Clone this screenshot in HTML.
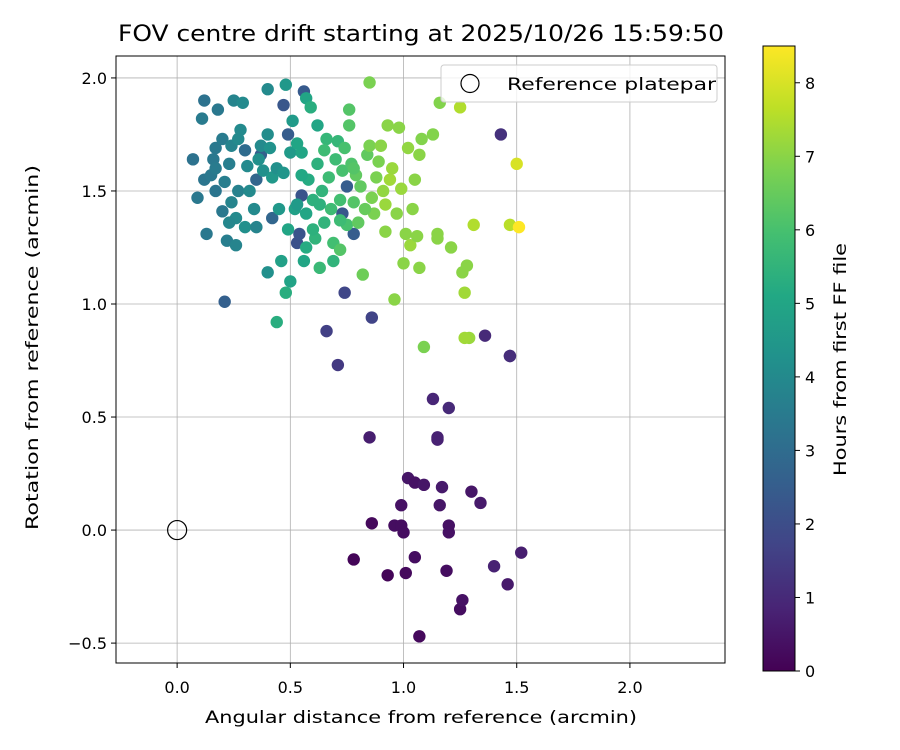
<!DOCTYPE html>
<html><head><meta charset="utf-8">
<style>
html,body{margin:0;padding:0;background:#fff;}
svg{display:block;font-family:"DejaVu Sans","Liberation Sans",sans-serif;}
</style></head>
<body>
<svg id="chart" width="900" height="750" viewBox="0 0 900 750" xmlns="http://www.w3.org/2000/svg">
<defs>
<linearGradient id="vir" x1="0" y1="1" x2="0" y2="0">
<stop offset="0" stop-color="#440154"/><stop offset="0.1" stop-color="#482475"/><stop offset="0.2" stop-color="#414487"/><stop offset="0.3" stop-color="#355f8d"/><stop offset="0.4" stop-color="#2a788e"/><stop offset="0.5" stop-color="#21918c"/><stop offset="0.6" stop-color="#22a884"/><stop offset="0.7" stop-color="#44bf70"/><stop offset="0.8" stop-color="#7ad151"/><stop offset="0.9" stop-color="#bddf26"/><stop offset="1" stop-color="#fde725"/>
</linearGradient>
<clipPath id="plotclip"><rect x="116" y="56" width="609" height="607"/></clipPath>
</defs>
<text x="118" y="41" font-size="22" textLength="606" lengthAdjust="spacingAndGlyphs">FOV centre drift starting at 2025/10/26 15:59:50</text>
<g id="grid"></g>
<g id="points" clip-path="url(#plotclip)"></g>
<rect x="116" y="56" width="609" height="607" fill="none" stroke="#000" stroke-width="1"/>
<g id="ticks"></g>
<text x="205" y="723" font-size="17" textLength="432" lengthAdjust="spacingAndGlyphs">Angular distance from reference (arcmin)</text>
<text transform="translate(38,530) rotate(-90)" font-size="17" textLength="365" lengthAdjust="spacingAndGlyphs">Rotation from reference (arcmin)</text>
<g>
<rect x="441" y="65" width="276" height="37" rx="3" fill="#fff" fill-opacity="0.8" stroke="#ccc"/>
<circle cx="470" cy="83.5" r="9" fill="none" stroke="#000" stroke-width="1.2"/>
<text x="507" y="90" font-size="17" textLength="209" lengthAdjust="spacingAndGlyphs">Reference platepar</text>
</g>
<rect x="763" y="46" width="32" height="625" fill="url(#vir)" stroke="#000" stroke-width="1"/>
<g id="cbticks"></g>
<text transform="translate(846,476) rotate(-90)" font-size="17" textLength="233" lengthAdjust="spacingAndGlyphs">Hours from first FF file</text>
</svg>
<script>
const xTicks=[0.0,0.5,1.0,1.5,2.0];
const xTickLabels=["0.0","0.5","1.0","1.5","2.0"];
const yTicks=[-0.5,0.0,0.5,1.0,1.5,2.0];
const yTickLabels=["\u22120.5","0.0","0.5","1.0","1.5","2.0"];
const cbTicks=[0,1,2,3,4,5,6,7,8];
const xs=[1.07,1.25,1.26,1.46,1.52,1.40,1.34,1.30,1.20,1.20,1.19,1.05,1.01,0.93,0.78,0.86,0.96,0.99,1.00,0.99,1.02,1.05,1.09,1.16,1.17,0.85,1.15,1.15,1.13,1.20,1.36,1.47,1.47,1.43,0.71,0.66,0.86,0.74,
0.21,0.53,0.54,0.55,0.47,0.56,0.49,0.37,0.30,0.42,0.73,0.78,0.75,0.35,
0.07,0.09,0.11,0.12,0.13,0.12,0.15,0.16,0.17,0.17,0.17,0.18,0.20,0.20,0.21,0.22,0.23,0.24,0.24,0.25,0.26,0.26,0.27,0.28,0.29,0.30,0.31,0.32,0.34,0.35,0.36,0.37,0.38,0.40,0.40,0.40,0.41,0.42,0.44,0.45,0.47,0.48,0.50,0.51,0.52,0.53,0.46,0.48,0.44,0.27,0.23,
0.53,0.55,0.57,0.58,0.57,0.57,0.59,0.60,0.61,0.62,0.62,0.63,0.64,0.65,0.66,0.67,0.68,0.69,0.70,0.71,0.72,0.72,0.73,0.74,0.75,0.76,0.76,0.77,0.78,0.79,0.80,0.81,0.82,0.84,0.85,0.85,0.86,0.87,0.88,0.89,0.90,0.91,0.92,0.92,0.93,0.94,0.95,0.96,0.97,0.98,0.99,1.00,1.01,1.02,1.03,1.04,1.05,1.06,1.07,1.07,1.08,1.09,1.13,1.15,1.15,1.16,1.21,1.25,1.26,1.27,1.28,1.29,1.31,1.47,1.50,1.51,1.27,0.65,0.60,0.56,0.69,0.72,0.78,0.83,0.50,0.49,0.55,0.63];
const ys=[-0.47,-0.35,-0.31,-0.24,-0.10,-0.16,0.12,0.17,0.02,-0.01,-0.18,-0.12,-0.19,-0.20,-0.13,0.03,0.02,0.02,-0.01,0.11,0.23,0.21,0.20,0.11,0.19,0.41,0.41,0.40,0.58,0.54,0.86,0.77,0.77,1.75,0.73,0.88,0.94,1.05,
1.01,1.27,1.31,1.48,1.88,1.94,1.75,1.66,1.68,1.38,1.40,1.31,1.52,1.55,
1.64,1.47,1.82,1.90,1.31,1.55,1.57,1.64,1.69,1.60,1.50,1.86,1.73,1.41,1.54,1.28,1.62,1.45,1.70,1.90,1.38,1.26,1.50,1.77,1.89,1.34,1.61,1.50,1.42,1.34,1.64,1.70,1.59,1.75,1.95,1.14,1.69,1.56,1.60,1.42,1.58,1.97,1.67,1.81,1.42,1.44,1.19,1.05,0.92,1.73,1.36,
1.71,1.67,1.91,1.55,1.40,1.25,1.87,1.46,1.29,1.62,1.79,1.16,1.50,1.36,1.73,1.56,1.42,1.27,1.64,1.72,1.46,1.24,1.59,1.69,1.35,1.86,1.79,1.62,1.45,1.57,1.36,1.52,1.13,1.66,1.70,1.98,1.47,1.40,1.56,1.63,1.70,1.50,1.44,1.32,1.79,1.55,1.60,1.02,1.40,1.78,1.51,1.18,1.31,1.69,1.26,1.42,1.55,1.30,1.16,1.66,1.73,0.81,1.75,1.31,1.29,1.89,1.25,1.87,1.14,1.05,1.17,0.85,1.35,1.35,1.62,1.34,0.85,1.68,1.33,1.19,1.19,1.37,1.60,1.42,1.10,1.33,1.57,1.44];
const hours=[0.2,0.3,0.4,0.6,0.7,0.8,0.6,0.5,0.4,0.4,0.3,0.3,0.2,0.1,0.1,0.2,0.3,0.3,0.3,0.4,0.5,0.4,0.5,0.5,0.6,0.7,0.8,0.8,0.9,1.0,1.0,1.1,1.1,1.2,1.4,1.6,1.7,1.8,
2.6,2.1,2.2,2.2,2.3,2.4,2.5,2.6,3.0,2.8,2.3,2.5,2.5,2.8,
3.2,3.4,3.5,3.2,3.4,3.3,3.4,3.4,3.4,3.5,3.3,3.4,3.5,3.4,3.6,3.6,3.6,3.8,3.8,3.8,4.0,3.8,3.7,4.0,4.0,4.2,4.0,4.0,4.0,3.8,4.2,4.0,4.2,4.1,4.0,4.2,4.3,4.5,4.2,4.5,4.4,4.5,4.6,4.6,4.8,4.6,4.8,5.3,5.3,4.0,3.9,
5.0,5.0,5.0,5.2,5.0,5.2,5.3,5.4,5.5,5.4,5.0,5.7,5.5,5.5,5.6,5.8,5.8,5.9,5.8,5.6,5.9,6.2,6.0,6.0,6.0,6.2,6.2,6.1,6.2,6.4,6.4,6.4,6.6,6.4,6.8,6.8,6.8,6.8,6.8,6.8,7.0,7.1,7.2,7.0,7.0,7.3,7.2,7.0,7.0,7.0,7.2,7.0,7.0,7.1,7.2,7.0,7.0,7.0,7.0,7.0,6.9,6.8,6.9,7.0,7.0,6.9,7.0,7.5,7.0,7.3,7.0,7.2,7.5,7.6,8.0,8.5,7.3,5.8,5.4,5.0,5.5,5.8,6.2,6.5,4.9,5.0,5.1,5.4];

const NS="http://www.w3.org/2000/svg";
const X0=-0.27,X1=2.42,Y0=-0.588,Y1=2.097;
const L=116,R=725,T=56,B=663;
function sx(v){return L+(v-X0)/(X1-X0)*(R-L);}
function sy(v){return B-(v-Y0)/(Y1-Y0)*(B-T);}
const CB0=671,CB1=46,HMAX=8.5;
function cy(h){return CB0-h/HMAX*(CB0-CB1);}
const vir=[[68,1,84],[72,36,117],[65,68,135],[53,95,141],[42,120,142],[33,145,140],[34,168,132],[68,191,112],[122,209,81],[189,223,38],[253,231,37]];
function color(h){let t=Math.max(0,Math.min(1,h/HMAX))*10;let i=Math.min(9,Math.floor(t));let f=t-i;const a=vir[i],b=vir[i+1];return `rgb(${Math.round(a[0]+(b[0]-a[0])*f)},${Math.round(a[1]+(b[1]-a[1])*f)},${Math.round(a[2]+(b[2]-a[2])*f)})`;}
function mk(tag,attrs,parent){const e=document.createElementNS(NS,tag);for(const k in attrs)e.setAttribute(k,attrs[k]);parent.appendChild(e);return e;}
const grid=document.getElementById('grid'),ticks=document.getElementById('ticks'),pts=document.getElementById('points'),cbt=document.getElementById('cbticks');
xTicks.forEach((v,i)=>{
  const g=mk('line',{x1:sx(v),x2:sx(v),y1:T,y2:B,stroke:'#b0b0b0','stroke-width':0.8},grid);
  
  
  const t=mk('line',{x1:sx(v),x2:sx(v),y1:B,y2:B+5,stroke:'#000'},ticks);
  
  
  const l=mk('text',{x:sx(v),y:B+30,'text-anchor':'middle','font-size':16},ticks);l.textContent=xTickLabels[i];
  
  
});
yTicks.forEach((v,i)=>{
  const g=mk('line',{x1:L,x2:R,y1:sy(v),y2:sy(v),stroke:'#b0b0b0','stroke-width':0.8},grid);
  
  
  const t=mk('line',{x1:L-5,x2:L,y1:sy(v),y2:sy(v),stroke:'#000'},ticks);
  
  
  const l=mk('text',{x:L-9,y:sy(v)+6,'text-anchor':'end','font-size':16},ticks);l.textContent=yTickLabels[i];
  
  
});
for(let i=0;i<xs.length;i++){
  const c=mk('circle',{cx:sx(xs[i]),cy:sy(ys[i]),r:6.2,fill:color(hours[i])},pts);
  
  
}
const ref=mk('circle',{cx:sx(0),cy:sy(0),r:9.5,fill:'none',stroke:'#000','stroke-width':1.2},pts);


cbTicks.forEach(v=>{
  const t=mk('line',{x1:795,x2:800,y1:cy(v),y2:cy(v),stroke:'#000'},cbt);
  
  
  const l=mk('text',{x:805,y:cy(v)+6,'font-size':16},cbt);l.textContent=String(v);
  
  
});
</script>
</body></html>
